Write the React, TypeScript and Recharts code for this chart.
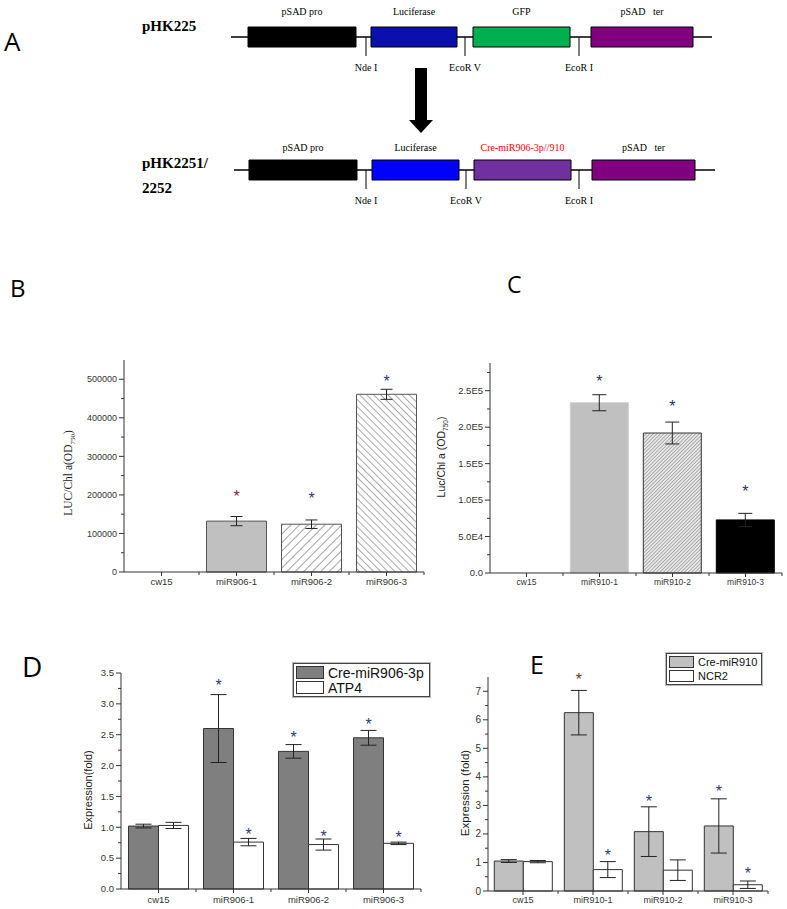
import React from 'react';
import {
  BarChart,
  Bar,
  XAxis,
  YAxis,
  Cell,
  ErrorBar,
  LabelList,
  Label,
  Legend,
  ComposedChart,
  ReferenceArea,
  ReferenceLine,
  ReferenceDot,
} from 'recharts';

const SANS = '"Liberation Sans", Arial, sans-serif';
const SERIF = '"Liberation Serif", "Times New Roman", serif';
const LETTER = '"Open Sans", "Liberation Sans", sans-serif';

// ---- A: construct maps (positions along the map)
const rowNames = [['pHK225'], ['pHK2251/', '2252']];
const rowCenter = [37, 170];
const backboneStart = [231, 234];
const backboneEnd = [712, 715];
const partNames = [
  ['pSAD pro', 'Luciferase', 'GFP', 'pSAD\u00a0\u00a0\u00a0ter'],
  ['pSAD pro', 'Luciferase', 'Cre-miR906-3p//910', 'pSAD\u00a0\u00a0\u00a0ter'],
];
const partStart = [[248, 371, 473, 591], [249, 372, 474, 592]];
const partEnd = [[356, 457, 570, 693], [357, 459, 571, 695]];
const partFill = [
  ['#000000', '#0b10ad', '#00b050', '#800080'],
  ['#000000', '#0000ff', '#7030a0', '#800080'],
];
const partLabelColor = [
  ['#000', '#000', '#000', '#000'],
  ['#000', '#000', '#ff0000', '#000'],
];
const siteNames = ['Nde I', 'EcoR V', 'EcoR I'];
const sitePos = [[366, 465, 579], [366, 466, 579]];

// ---- B
const bCategories = ['cw15', 'miR906-1', 'miR906-2', 'miR906-3'];
const bValues = [0, 132000, 124000, 461000];
const bErrors = [0, 12000, 11000, 13000];
const bStars = [null, 205000, 200000, 503000];
const bStarColors = ['#000', '#7a2448', '#2f3b6b', '#2f3b6b'];
const bMajor = [0, 100000, 200000, 300000, 400000, 500000];
const bMinor = [50000, 150000, 250000, 350000, 450000];
const bTickLabels = ['0', '100000', '200000', '300000', '400000', '500000'];

// ---- C
const cCategories = ['cw15', 'miR910-1', 'miR910-2', 'miR910-3'];
const cValues = [0, 233500, 192000, 72800];
const cErrors = [0, 11000, 15000, 9000];
const cStars = [null, 268000, 233500, 117000];
const cStarColors = ['#000', '#2c3350', '#2c3350', '#2c3350'];
const cMajor = [0, 50000, 100000, 150000, 200000, 250000];
const cMinor = [25000, 75000, 125000, 175000, 225000, 275000];
const cTickLabels = ['0.0', '5.0E4', '1.0E5', '1.5E5', '2.0E5', '2.5E5'];

// ---- D
const dCategories = ['cw15', 'miR906-1', 'miR906-2', 'miR906-3'];
const dSeries = ['Cre-miR906-3p', 'ATP4'];
const dMiR = [1.02, 2.6, 2.23, 2.45];
const dMiRErr = [0.03, 0.55, 0.11, 0.12];
const dMiRStar = [null, 3.36, 2.52, 2.73];
const dAtp = [1.03, 0.76, 0.72, 0.74];
const dAtpErr = [0.05, 0.06, 0.09, 0.02];
const dAtpStar = [null, 0.94, 0.91, 0.89];
const dMajor = [0, 0.5, 1, 1.5, 2, 2.5, 3, 3.5];
const dMinor = [0.25, 0.75, 1.25, 1.75, 2.25, 2.75, 3.25];
const dTickLabels = ['0.0', '0.5', '1.0', '1.5', '2.0', '2.5', '3.0', '3.5'];

// ---- E
const eCategories = ['cw15', 'miR910-1', 'miR910-2', 'miR910-3'];
const eSeries = ['Cre-miR910', 'NCR2'];
const eMiR = [1.05, 6.25, 2.08, 2.28];
const eMiRErr = [0.05, 0.78, 0.87, 0.95];
const eMiRStar = [null, 7.55, 3.25, 3.6];
const eMiRStarColors = ['#000', '#8b1c1c', '#2f3b6b', '#2f3b6b'];
const eNcr = [1.03, 0.75, 0.73, 0.22];
const eNcrErr = [0.04, 0.28, 0.36, 0.13];
const eNcrStar = [null, 1.36, null, 0.73];
const eMajor = [0, 1, 2, 3, 4, 5, 6, 7];
const eMinor = [0.5, 1.5, 2.5, 3.5, 4.5, 5.5, 6.5];
const eTickLabels = ['0', '1', '2', '3', '4', '5', '6', '7'];

const navy = '#2f3b6b';
const navy4 = [navy, navy, navy, navy];

// y tick with major/minor marks drawn by hand
const yTick = (axisX: number, majors: number[], labels: string[], fs: number) => (props: any) => {
  const { y, payload } = props;
  const idx = majors.indexOf(payload.value);
  const major = idx >= 0;
  return (
    <g>
      <line x1={axisX - (major ? 5 : 3)} x2={axisX} y1={y} y2={y} stroke="#333" strokeWidth={1} />
      {major && (
        <text x={axisX - 7} y={y} dy="0.35em" textAnchor="end" fontSize={fs} fontFamily={SANS} fill="#333">
          {labels[idx]}
        </text>
      )}
    </g>
  );
};

// x tick: category label plus a small mark at the right edge of each category band
const xTick = (band: number, gap: number, fs: number) => (props: any) => {
  const { x, y, payload } = props;
  const axisY = y - gap;
  return (
    <g>
      <line x1={x + band / 2} x2={x + band / 2} y1={axisY} y2={axisY + 3} stroke="#333" strokeWidth={1} />
      <text x={x} y={y} dy="0.71em" textAnchor="middle" fontSize={fs} fontFamily={SANS} fill="#333">
        {payload.value}
      </text>
    </g>
  );
};

// asterisk above a bar; the label value is the category name, the star height
// (data units) is converted with the bar's own geometry
const starContent = (cats: string[], values: number[], stars: (number | null)[], colors: string[], fs = 16) => (props: any) => {
  const i = cats.indexOf(props.value);
  if (i < 0) return null;
  const sv = stars[i];
  if (sv === null || sv === undefined || !values[i]) return null;
  const vb = props.viewBox ?? props;
  const base = vb.y + vb.height;
  const ppu = vb.height / values[i];
  const cy = base - sv * ppu;
  return (
    <text x={vb.x + vb.width / 2} y={cy + 0.57 * fs} textAnchor="middle" fontSize={fs} fontFamily={SANS} fill={colors[i]}>
      *
    </text>
  );
};

const legendContent = (order: string[], fs: number, swW: number, swH: number, width: number) => (props: any) => {
  const items = [...(props.payload || [])].sort((a: any, b: any) => order.indexOf(a.value) - order.indexOf(b.value));
  return (
    <div
      style={{
        border: '1px solid #444',
        boxShadow: '0 0 0 1px #bbb',
        background: '#fff',
        width,
        padding: '1px 2px',
        boxSizing: 'border-box',
      }}
    >
      {items.map((p: any) => (
        <div key={p.value} style={{ display: 'flex', alignItems: 'center', height: swH + 2, whiteSpace: 'nowrap' }}>
          <span
            style={{
              display: 'inline-block',
              flex: 'none',
              width: swW,
              height: swH,
              background: p.color,
              border: '1px solid #333',
              boxSizing: 'border-box',
            }}
          />
          <span style={{ marginLeft: 4, fontSize: fs, fontFamily: SANS, color: '#111', lineHeight: 1 }}>{p.value}</span>
        </div>
      ))}
    </div>
  );
};

function PanelA() {
  const els: React.ReactNode[] = [];
  [0, 1].forEach((r) => {
    const y = rowCenter[r];
    // backbone only in the gaps between boxes
    const edges = [backboneStart[r]];
    partStart[r].forEach((s, i) => {
      edges.push(s, partEnd[r][i]);
    });
    edges.push(backboneEnd[r]);
    for (let k = 0; k < edges.length; k += 2) {
      els.push(
        <ReferenceLine
          key={`bb${r}${k}`}
          segment={[{ x: edges[k], y }, { x: edges[k + 1], y }]}
          stroke="#000"
          strokeWidth={1.5}
        />
      );
    }
    partNames[r].forEach((name, i) => {
      els.push(
        <ReferenceArea
          key={`p${r}${i}`}
          x1={partStart[r][i]}
          x2={partEnd[r][i]}
          y1={y - 10}
          y2={y + 10}
          fill={partFill[r][i]}
          fillOpacity={1}
          stroke="#000"
          strokeWidth={1}
          label={{
            value: name,
            position: 'top',
            offset: r === 0 ? 12 : 9,
            fontSize: 10,
            fontFamily: SERIF,
            fill: partLabelColor[r][i],
          }}
        />
      );
    });
    siteNames.forEach((s, i) => {
      els.push(
        <ReferenceLine
          key={`s${r}${i}`}
          segment={[{ x: sitePos[r][i], y }, { x: sitePos[r][i], y: y + 19 }]}
          stroke="#000"
          strokeWidth={1}
        />
      );
      els.push(
        <ReferenceDot
          key={`sl${r}${i}`}
          x={sitePos[r][i]}
          y={y + 30}
          r={0}
          shape={(p: any) => (
            <text x={p.cx} y={p.cy} dy="0.35em" textAnchor="middle" fontSize={10} fontFamily={SERIF} fill="#000">
              {s}
            </text>
          )}
        />
      );
    });
    rowNames[r].forEach((n, j) => {
      els.push(
        <ReferenceDot
          key={`rn${r}${j}`}
          x={142}
          y={(r === 0 ? 26 : 163) + j * 25}
          r={0}
          shape={(p: any) => (
            <text x={p.cx} y={p.cy} dy="0.35em" textAnchor="start" fontSize={15} fontWeight="bold" fontFamily={SERIF} fill="#000">
              {n}
            </text>
          )}
        />
      );
    });
  });
  // arrow between the two maps
  els.push(
    <ReferenceArea key="shaft" x1={415} x2={427} y1={68} y2={121} fill="#000" fillOpacity={1} stroke="none" />
  );
  els.push(
    <ReferenceDot
      key="head"
      x={421}
      y={120}
      r={0}
      shape={(p: any) => (
        <polygon points={`${p.cx - 12},${p.cy} ${p.cx + 12},${p.cy} ${p.cx},${p.cy + 13}`} fill="#000" />
      )}
    />
  );
  return (
    <ComposedChart width={787} height={215} data={[]} margin={{ top: 0, right: 0, bottom: 0, left: 0 }}>
      <XAxis type="number" dataKey="x" domain={[0, 787]} hide allowDataOverflow />
      <YAxis type="number" domain={[0, 215]} reversed hide allowDataOverflow />
      {els}
    </ComposedChart>
  );
}

function PanelB() {
  const data = bCategories.map((c, i) => ({ name: c, value: bValues[i], err: bErrors[i] }));
  const fills = ['#c0c0c0', '#c0c0c0', 'url(#hatchB2)', 'url(#hatchB3)'];
  return (
    <BarChart width={440} height={260} data={data} margin={{ top: 20, right: 16, bottom: 3, left: 0 }} barCategoryGap="10%">
      <defs>
        <pattern id="hatchB2" patternUnits="userSpaceOnUse" width="6" height="6" patternTransform="rotate(45)">
          <rect width="6" height="6" fill="#fff" />
          <line x1="0" y1="0" x2="0" y2="6" stroke="#666" strokeWidth="1.2" />
        </pattern>
        <pattern id="hatchB3" patternUnits="userSpaceOnUse" width="5" height="5" patternTransform="rotate(-45)">
          <rect width="5" height="5" fill="#fff" />
          <line x1="0" y1="0" x2="0" y2="5" stroke="#666" strokeWidth="1.1" />
        </pattern>
      </defs>
      <XAxis
        dataKey="name"
        interval={0}
        height={25}
        stroke="#333"
        tickSize={4}
        tickMargin={2}
        tick={xTick(75, 6, 9.5)}
      />
      <YAxis
        width={124}
        domain={[0, 550000]}
        ticks={[...bMajor, ...bMinor]}
        interval={0}
        stroke="#333"
        tickLine={false}
        tick={yTick(124, bMajor, bTickLabels, 9)}
        label={
          <Label
            content={() => (
              <text x={72} y={133} transform="rotate(-90 72 133)" textAnchor="middle" fontSize={11.5} fontFamily={SERIF} fill="#222">
                LUC/Chl a(OD<tspan fontSize={7} dy={3}>750</tspan>
                <tspan dy={-3}>)</tspan>
              </text>
            )}
          />
        }
      />
      <Bar dataKey="value" isAnimationActive={false} strokeWidth={1}>
        {data.map((d, i) => (
          <Cell key={d.name} fill={fills[i]} stroke="#555" />
        ))}
        <ErrorBar dataKey="err" width={6} stroke="#222" strokeWidth={1} />
        <LabelList dataKey="name" content={starContent(bCategories, bValues, bStars, bStarColors)} />
      </Bar>
    </BarChart>
  );
}

function PanelC() {
  const data = cCategories.map((c, i) => ({ name: c, value: cValues[i], err: cErrors[i] }));
  const fills = ['#c0c0c0', '#c0c0c0', 'url(#hatchC2)', '#000'];
  const strokes = ['none', '#cfcfcf', '#333', '#000'];
  return (
    <BarChart width={387} height={260} data={data} margin={{ top: 23, right: 5, bottom: 2, left: 0 }} barCategoryGap="10%">
      <defs>
        <pattern id="hatchC2" patternUnits="userSpaceOnUse" width="2.5" height="2.5" patternTransform="rotate(45)">
          <rect width="2.5" height="2.5" fill="#e6e6e6" />
          <line x1="0" y1="0" x2="0" y2="2.5" stroke="#777" strokeWidth="1" />
        </pattern>
      </defs>
      <XAxis
        dataKey="name"
        interval={0}
        height={25}
        stroke="#333"
        tickSize={4}
        tickMargin={2}
        tick={xTick(73, 6, 8.5)}
      />
      <YAxis
        width={90}
        domain={[0, 288000]}
        ticks={[...cMajor, ...cMinor]}
        interval={0}
        stroke="#333"
        tickLine={false}
        tick={yTick(90, cMajor, cTickLabels, 9.5)}
        label={
          <Label
            content={() => (
              <text x={45} y={117} transform="rotate(-90 45 117)" textAnchor="middle" fontSize={10.5} fontFamily={SANS} fill="#222">
                Luc/Chl a (OD<tspan fontSize={6.5} dy={3}>750</tspan>
                <tspan dy={-3}>)</tspan>
              </text>
            )}
          />
        }
      />
      <Bar dataKey="value" isAnimationActive={false} strokeWidth={1}>
        {data.map((d, i) => (
          <Cell key={d.name} fill={fills[i]} stroke={strokes[i]} />
        ))}
        <ErrorBar dataKey="err" width={7} stroke="#222" strokeWidth={1} />
        <LabelList dataKey="name" content={starContent(cCategories, cValues, cStars, cStarColors)} />
      </Bar>
    </BarChart>
  );
}

function PanelD() {
  const data = dCategories.map((c, i) => ({
    name: c,
    a: dMiR[i],
    aErr: dMiRErr[i],
    b: dAtp[i],
    bErr: dAtpErr[i],
  }));
  return (
    <BarChart width={440} height={269} data={data} margin={{ top: 33, right: 19, bottom: 0, left: 0 }} barCategoryGap="10%" barGap={0}>
      <XAxis
        dataKey="name"
        interval={0}
        height={20}
        stroke="#333"
        tickSize={4}
        tickMargin={3}
        tick={xTick(75, 7, 9.5)}
      />
      <YAxis
        width={121}
        domain={[0, 3.5]}
        ticks={[...dMajor, ...dMinor]}
        interval={0}
        stroke="#333"
        tickLine={false}
        tick={yTick(121, dMajor, dTickLabels, 9.5)}
        label={
          <Label
            content={() => (
              <text x={88} y={150} transform="rotate(-90 88 150)" textAnchor="middle" dominantBaseline="central" fontSize={11} fontFamily={SANS} fill="#222">
                Expression(fold)
              </text>
            )}
          />
        }
      />
      <Legend
        layout="vertical"
        align="center"
        verticalAlign="middle"
        wrapperStyle={{ left: 293, top: 23 }}
        content={legendContent(dSeries, 14, 28, 13, 137)}
      />
      <Bar dataKey="a" name={dSeries[0]} fill="#7f7f7f" stroke="#333" strokeWidth={1} isAnimationActive={false}>
        <ErrorBar dataKey="aErr" width={8} stroke="#222" strokeWidth={1} />
        <LabelList dataKey="name" content={starContent(dCategories, dMiR, dMiRStar, navy4)} />
      </Bar>
      <Bar dataKey="b" name={dSeries[1]} fill="#ffffff" stroke="#333" strokeWidth={1} isAnimationActive={false}>
        <ErrorBar dataKey="bErr" width={8} stroke="#222" strokeWidth={1} />
        <LabelList dataKey="name" content={starContent(dCategories, dAtp, dAtpStar, navy4)} />
      </Bar>
    </BarChart>
  );
}

function PanelE() {
  const data = eCategories.map((c, i) => ({
    name: c,
    a: eMiR[i],
    aErr: eMiRErr[i],
    b: eNcr[i],
    bErr: eNcrErr[i],
  }));
  return (
    <BarChart width={387} height={269} data={data} margin={{ top: 37, right: 19, bottom: 0, left: 0 }} barCategoryGap="9%" barGap={0}>
      <XAxis
        dataKey="name"
        interval={0}
        height={18}
        stroke="#333"
        tickSize={4}
        tickMargin={2}
        tick={xTick(70, 6, 9)}
      />
      <YAxis
        width={88}
        domain={[0, 7.5]}
        ticks={[...eMajor, ...eMinor]}
        interval={0}
        stroke="#333"
        tickLine={false}
        tick={yTick(88, eMajor, eTickLabels, 10)}
        label={
          <Label
            content={() => (
              <text x={65} y={153} transform="rotate(-90 65 153)" textAnchor="middle" dominantBaseline="central" fontSize={11.5} fontFamily={SANS} fill="#222">
                Expression (fold)
              </text>
            )}
          />
        }
      />
      <Legend
        layout="vertical"
        align="center"
        verticalAlign="middle"
        wrapperStyle={{ left: 266, top: 13 }}
        content={legendContent(eSeries, 11, 25, 12, 96)}
      />
      <Bar dataKey="a" name={eSeries[0]} fill="#c0c0c0" stroke="#333" strokeWidth={1} isAnimationActive={false}>
        <ErrorBar dataKey="aErr" width={8} stroke="#222" strokeWidth={1} />
        <LabelList dataKey="name" content={starContent(eCategories, eMiR, eMiRStar, eMiRStarColors)} />
      </Bar>
      <Bar dataKey="b" name={eSeries[1]} fill="#ffffff" stroke="#333" strokeWidth={1} isAnimationActive={false}>
        <ErrorBar dataKey="bErr" width={8} stroke="#222" strokeWidth={1} />
        <LabelList dataKey="name" content={starContent(eCategories, eNcr, eNcrStar, navy4)} />
      </Bar>
    </BarChart>
  );
}

const letter = (ch: string, left: number, top: number, size: number) => (
  <div
    style={{
      position: 'absolute',
      left,
      top,
      fontSize: size,
      lineHeight: 1,
      fontFamily: LETTER,
      color: '#000',
    }}
  >
    {ch}
  </div>
);

export default function App() {
  return (
    <div style={{ position: 'absolute', left: 0, top: 0, width: 787, height: 909, background: '#fff', overflow: 'hidden' }}>
      <div style={{ position: 'absolute', left: 0, top: 0 }}>
        <PanelA />
      </div>
      <div style={{ position: 'absolute', left: 0, top: 340 }}>
        <PanelB />
      </div>
      <div style={{ position: 'absolute', left: 400, top: 340 }}>
        <PanelC />
      </div>
      <div style={{ position: 'absolute', left: 0, top: 640 }}>
        <PanelD />
      </div>
      <div style={{ position: 'absolute', left: 400, top: 640 }}>
        <PanelE />
      </div>
      {letter('A', 4, 28, 26)}
      {letter('B', 10, 276, 24)}
      {letter('C', 507, 273, 23)}
      {letter('D', 22, 652, 28)}
      {letter('E', 530, 652, 25)}
    </div>
  );
}
